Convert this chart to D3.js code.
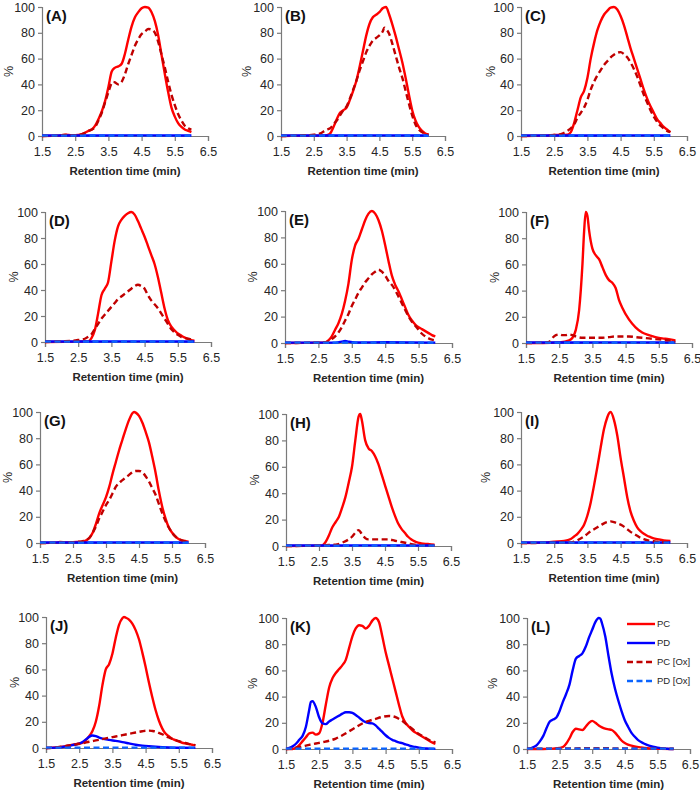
<!DOCTYPE html>
<html><head><meta charset="utf-8">
<script src="https://cdn.jsdelivr.net/npm/d3@7"></script>
<style>
body{margin:0;background:#fff;}
svg{display:block;font-family:"Liberation Sans",Arial,sans-serif;}
</style></head><body>
<svg id="c" width="700" height="790"></svg>
<script>
// ---------- DATA ----------
const seriesNames = ["PC","PD","PC [Ox]","PD [Ox]"];
const panelLabels = ["(A)","(B)","(C)","(D)","(E)","(F)","(G)","(H)","(I)","(J)","(K)","(L)"];
const xTicks = [1.5,2.5,3.5,4.5,5.5,6.5];
const yTicks = [0,20,40,60,80,100];
const xTitle = "Retention time (min)";
const yTitle = "%";

const FLAT_PD = [[1.5,0.4],[3.0,0.4],[4.5,0.5],[6.0,0.4]];
const FLAT_PDOx = [[1.5,0.3],[3.0,0.3],[4.5,0.3],[6.0,0.3]];

const A_PC = [[1.5,0],[2.0,0.3],[2.2,1],[2.4,0.5],[2.6,0.8],[2.8,2.5],[2.9,4],[3.0,5],[3.1,8],[3.2,13],[3.3,19],[3.4,27],[3.5,38],[3.6,50],[3.7,53],[3.8,54],[3.9,56],[4.0,64],[4.1,75],[4.2,85],[4.3,92],[4.4,96],[4.5,99],[4.6,100],[4.7,99.5],[4.8,96],[4.9,89],[5.0,78],[5.1,63],[5.2,48],[5.3,34],[5.4,22],[5.5,15],[5.6,10],[5.7,7],[5.8,5],[5.9,4],[6.0,3]];
const A_PCOx = [[1.5,0],[2.0,0.3],[2.2,0.8],[2.5,0.5],[2.7,1.5],[2.8,2.5],[2.9,4],[3.0,5],[3.1,7],[3.2,12],[3.3,18],[3.4,26],[3.5,34],[3.6,41],[3.65,42],[3.7,41.5],[3.8,40],[3.9,42],[4.0,48],[4.1,56],[4.2,63],[4.3,70],[4.4,75],[4.5,79],[4.6,81],[4.7,83],[4.8,82.5],[4.9,80],[5.0,73],[5.1,63],[5.2,53],[5.3,42],[5.4,32],[5.5,24],[5.6,17],[5.7,12],[5.8,8],[5.9,6],[6.0,5]];

const B_PC = [[1.5,0],[2.5,0.3],[2.8,0.3],[2.9,0.6],[3.0,2],[3.1,7],[3.2,13],[3.3,18],[3.4,20],[3.5,22],[3.6,28],[3.7,35],[3.8,43],[3.9,54],[4.0,66],[4.1,78],[4.2,87],[4.3,92],[4.4,94],[4.5,96],[4.6,99],[4.7,100],[4.8,94],[4.9,86],[5.0,77],[5.1,67],[5.2,57],[5.3,45],[5.4,32],[5.5,20],[5.6,12],[5.7,7],[5.8,4],[5.9,2],[6.0,1]];
const B_PCOx = [[1.5,0],[2.0,0.3],[2.5,1],[2.7,2],[2.8,3.5],[2.9,5],[3.0,6],[3.1,9],[3.2,12],[3.3,16],[3.4,20],[3.5,23],[3.6,29],[3.7,36],[3.8,43],[3.9,51],[4.0,58],[4.1,65],[4.2,70],[4.3,74],[4.4,76],[4.5,78],[4.6,81],[4.65,84],[4.7,83],[4.8,79],[4.9,71],[5.0,62],[5.1,53],[5.2,45],[5.3,35],[5.4,25],[5.5,16],[5.6,9],[5.7,5],[5.8,3],[5.9,1.5],[6.0,1]];

const C_PC = [[1.5,0],[2.3,0.3],[2.5,0.8],[2.7,0.8],[2.9,1],[3.0,3],[3.1,10],[3.2,20],[3.3,30],[3.4,35],[3.5,45],[3.6,60],[3.7,72],[3.8,82],[3.9,89],[4.0,94],[4.1,97],[4.2,99.5],[4.3,100],[4.4,98],[4.5,93],[4.6,86],[4.7,77],[4.8,68],[4.9,60],[5.0,52],[5.1,44],[5.2,36],[5.3,29],[5.4,23],[5.5,18],[5.6,13],[5.7,10],[5.8,7],[5.9,5],[6.0,3]];
const C_PCOx = [[1.5,0],[2.3,0.3],[2.5,0.8],[2.7,1.5],[2.8,2.5],[2.9,4],[3.0,6],[3.1,9],[3.2,14],[3.3,18],[3.4,22],[3.5,28],[3.6,36],[3.7,42],[3.8,47],[3.9,51],[4.0,55],[4.1,58],[4.2,61],[4.3,63],[4.4,64.5],[4.5,65],[4.6,63.5],[4.7,61],[4.8,57],[4.9,52],[5.0,46],[5.1,39],[5.2,32],[5.3,26],[5.4,20],[5.5,15],[5.6,11],[5.7,8],[5.8,6],[5.9,4],[6.0,3]];

const D_PC = [[1.5,0],[2.5,0.3],[2.8,0.5],[2.9,3],[3.0,9],[3.1,22],[3.2,36],[3.3,41],[3.4,46],[3.5,62],[3.6,78],[3.7,89],[3.8,94],[3.9,97],[4.0,99],[4.1,100],[4.2,98],[4.3,93],[4.4,87],[4.5,81],[4.6,74],[4.7,67],[4.8,60],[4.9,50],[5.0,38],[5.1,26],[5.2,17],[5.3,12],[5.4,9],[5.5,6.5],[5.6,5],[5.7,3.5],[5.8,2.5],[5.9,1.5],[6.0,1]];
const D_PCOx = [[1.5,0],[2.0,0.5],[2.3,0.8],[2.5,1.5],[2.7,2.5],[2.8,4],[2.9,6],[3.0,10],[3.1,14],[3.2,18],[3.3,21],[3.4,24],[3.5,27],[3.6,30],[3.7,33],[3.8,35],[3.9,37],[4.0,39],[4.1,41],[4.2,43],[4.3,44],[4.4,43],[4.5,41],[4.6,36],[4.7,32],[4.8,29],[4.9,26],[5.0,22],[5.1,18],[5.2,14],[5.3,10],[5.4,7.5],[5.5,5.5],[5.6,4],[5.8,2.5],[6.0,1.5]];

const E_PC = [[1.5,0],[2.5,0.3],[2.7,0.5],[2.8,2],[2.9,5],[3.0,10],[3.1,15],[3.2,22],[3.3,32],[3.4,45],[3.5,63],[3.6,74],[3.7,79],[3.8,86],[3.9,93],[4.0,98],[4.1,100],[4.2,98],[4.3,93],[4.4,85],[4.5,74],[4.6,62],[4.7,51],[4.8,44],[4.9,39],[5.0,33],[5.1,27],[5.2,21],[5.3,17],[5.4,14],[5.5,12],[5.6,10.5],[5.7,9],[5.8,7.5],[5.9,6],[6.0,5]];
const E_PCOx = [[1.5,0],[2.6,0.3],[2.8,1],[2.9,3],[3.0,5],[3.1,8],[3.2,12],[3.3,17],[3.4,22],[3.5,28],[3.6,33],[3.7,38],[3.8,42],[3.9,46],[4.0,49],[4.1,52],[4.2,54],[4.3,55.5],[4.4,54],[4.5,51],[4.6,47],[4.7,44],[4.8,40],[4.9,35],[5.0,30],[5.1,25],[5.2,20],[5.3,16],[5.4,13],[5.5,10],[5.6,7],[5.7,5],[5.8,3.5],[5.9,2.5],[6.0,2]];
const E_PD = [[1.5,0.3],[3.0,0.3],[3.2,1],[3.3,1.5],[3.4,1],[3.6,0.4],[4.5,0.6],[6.0,0.3]];

const F_PC = [[1.5,0],[2.0,0],[2.5,0.5],[2.8,2],[2.9,4],[3.0,10],[3.1,25],[3.2,60],[3.25,85],[3.3,100],[3.35,97],[3.4,86],[3.5,72],[3.6,67],[3.7,64],[3.8,58],[3.9,52],[4.0,48],[4.1,46],[4.2,42],[4.3,33],[4.4,27],[4.6,18],[4.8,12],[5.0,8],[5.2,6],[5.4,4.5],[5.6,3.5],[5.8,3],[6.0,2]];
const F_PCOx = [[1.5,0],[2.1,0.3],[2.2,1],[2.3,4],[2.4,6],[2.5,6.5],[2.6,6],[2.7,6],[2.8,6.5],[2.9,6],[3.0,5],[3.2,4],[3.4,4],[3.6,4],[3.8,4],[4.0,4.5],[4.2,5],[4.4,5],[4.6,5],[4.8,4.5],[5.0,4],[5.2,3.5],[5.4,3],[5.6,2.5],[5.8,2],[6.0,1]];

const G_PC = [[1.5,0],[2.0,0.3],[2.1,0.8],[2.3,0.5],[2.6,0.8],[2.8,1],[2.9,2],[3.0,4],[3.1,8],[3.2,15],[3.3,23],[3.4,29],[3.5,35],[3.6,43],[3.7,53],[3.8,62],[3.9,71],[4.0,79],[4.1,87],[4.2,94],[4.3,99],[4.35,100],[4.4,99.5],[4.5,97],[4.6,92],[4.7,85],[4.8,77],[4.9,66],[5.0,54],[5.1,40],[5.2,28],[5.3,19],[5.4,12],[5.5,8],[5.6,5],[5.7,3],[5.8,2],[5.9,1.5],[6.0,1]];
const G_PCOx = [[1.5,0],[2.3,0.3],[2.6,0.8],[2.8,1.5],[2.9,2.5],[3.0,4],[3.1,8],[3.2,13],[3.3,19],[3.4,24],[3.5,29],[3.6,33],[3.7,38],[3.8,43],[3.9,46],[4.0,48],[4.1,50],[4.2,52],[4.3,54],[4.4,55],[4.5,55],[4.6,54],[4.7,51],[4.8,47],[4.9,42],[5.0,37],[5.1,30],[5.2,23],[5.3,17],[5.4,12],[5.5,8],[5.6,5],[5.7,3],[5.8,2],[6.0,1]];

const H_PC = [[1.5,0],[2.5,0.3],[2.6,0.5],[2.7,3],[2.8,8],[2.9,14],[3.0,18],[3.1,22],[3.2,29],[3.3,37],[3.4,48],[3.5,60],[3.6,80],[3.7,98],[3.75,100],[3.8,95],[3.9,80],[4.0,74],[4.1,72],[4.2,68],[4.3,62],[4.4,54],[4.5,46],[4.6,38],[4.7,30],[4.8,23],[4.9,17],[5.0,13],[5.1,10],[5.2,7],[5.3,5],[5.4,3.5],[5.5,2.5],[5.6,2],[5.8,1.5],[6.0,1]];
const H_PCOx = [[1.5,0],[2.6,0.3],[2.8,0.8],[3.0,1],[3.2,2.5],[3.4,5],[3.5,7],[3.6,10],[3.7,12],[3.8,9],[3.9,6],[4.0,5],[4.2,5],[4.4,5],[4.6,5],[4.8,4],[5.0,3],[5.2,2],[5.4,1],[5.6,0.5],[6.0,0.3]];

const I_PC = [[1.5,0],[2.3,0.5],[2.5,1],[2.8,1.5],[3.0,3],[3.1,5],[3.2,7],[3.3,10],[3.4,14],[3.5,21],[3.6,31],[3.7,44],[3.8,58],[3.9,73],[4.0,87],[4.1,96],[4.15,99],[4.2,100],[4.3,94],[4.4,82],[4.5,65],[4.6,50],[4.7,35],[4.8,24],[4.9,17],[5.0,12],[5.1,9],[5.2,7],[5.3,5.5],[5.4,4.5],[5.5,3.5],[5.6,3],[5.7,2.5],[5.8,2],[6.0,1.5]];
const I_PCOx = [[1.5,0],[3.0,0.3],[3.1,1],[3.2,2],[3.3,3.5],[3.4,5],[3.5,7],[3.6,9],[3.7,10.5],[3.8,12],[3.9,13.5],[4.0,15],[4.1,16],[4.2,16.5],[4.3,16],[4.4,15],[4.5,14],[4.6,12.5],[4.7,10.5],[4.8,8.5],[4.9,7],[5.0,5.5],[5.1,4],[5.2,3],[5.3,2.2],[5.4,1.7],[5.5,1.3],[5.6,1],[5.8,0.5],[6.0,0.3]];

const J_PC = [[1.5,0],[1.8,0.5],[2.0,1],[2.2,2],[2.4,3],[2.6,4],[2.7,6],[2.8,9],[2.9,13],[3.0,20],[3.1,32],[3.2,48],[3.3,60],[3.4,64],[3.5,72],[3.6,84],[3.7,94],[3.8,99],[3.85,100],[3.9,99.5],[4.0,98],[4.1,95],[4.2,90],[4.3,83],[4.4,73],[4.5,62],[4.6,50],[4.7,39],[4.8,29],[4.9,21],[5.0,15],[5.1,11],[5.2,9],[5.3,7],[5.4,6],[5.5,5],[5.6,4],[5.7,3.5],[5.8,3],[5.9,2.5],[6.0,2]];
const J_PD = [[1.5,0],[1.8,0.3],[2.0,0.8],[2.1,1.2],[2.2,1.8],[2.3,2.2],[2.4,2.7],[2.5,3.3],[2.6,4.5],[2.7,6.5],[2.8,8.5],[2.9,9.5],[3.0,9],[3.1,8],[3.2,7.2],[3.4,6.2],[3.6,5.4],[3.8,4.5],[4.0,3.5],[4.2,2.5],[4.4,1.8],[4.6,1.3],[4.8,0.9],[5.0,0.6],[5.2,0.4],[5.5,0.2],[6.0,0.1]];
const J_PCOx = [[1.5,0],[1.8,0.5],[2.0,1.2],[2.2,2],[2.4,2.8],[2.6,3.6],[2.8,4.8],[3.0,5.8],[3.2,6.8],[3.4,7.8],[3.6,8.8],[3.8,9.8],[4.0,10.8],[4.2,11.8],[4.4,12.8],[4.5,13.2],[4.6,13.3],[4.7,13],[4.8,12.5],[4.9,11.5],[5.0,10.5],[5.1,9.2],[5.2,8],[5.3,7],[5.4,6],[5.5,5.2],[5.6,4.5],[5.7,3.8],[5.8,3.2],[5.9,2.7],[6.0,2.2]];

const K_PC = [[1.5,0],[1.7,0],[1.8,1],[1.9,3],[2.0,6],[2.1,9],[2.2,12],[2.3,12.5],[2.4,11],[2.5,12],[2.6,20],[2.7,34],[2.8,47],[2.9,54],[3.0,58],[3.1,61],[3.2,64],[3.3,68],[3.4,77],[3.5,86],[3.6,92],[3.7,94.5],[3.8,94],[3.9,92],[4.0,94],[4.1,98],[4.2,100],[4.3,97],[4.4,86],[4.5,74],[4.6,64],[4.7,54],[4.8,44],[4.9,34],[5.0,25],[5.1,20],[5.2,17],[5.3,14.5],[5.4,12.5],[5.5,11],[5.6,9.5],[5.7,8],[5.8,6.5],[5.9,5],[6.0,4]];
const K_PD = [[1.5,0],[1.6,0.8],[1.7,2],[1.8,4],[1.9,7],[2.0,10],[2.1,17],[2.2,30],[2.25,36],[2.3,36.5],[2.4,32],[2.5,24],[2.6,19.5],[2.7,19],[2.8,21],[2.9,22.5],[3.0,24],[3.1,25.5],[3.2,27],[3.3,28],[3.4,28],[3.5,27.5],[3.6,26],[3.7,24],[3.8,22],[3.9,20.5],[4.0,19.8],[4.1,19.5],[4.2,18],[4.3,15.5],[4.4,13],[4.5,10.5],[4.6,8.5],[4.7,7],[4.8,6],[4.9,5],[5.0,4.5],[5.1,3.5],[5.2,2.8],[5.3,2],[5.4,1.5],[5.5,1],[5.6,0.6],[5.8,0.3],[6.0,0.1]];
const K_PCOx = [[1.5,0],[1.7,0.3],[1.8,1],[2.0,2],[2.2,3.2],[2.4,4.2],[2.6,5.2],[2.8,6.3],[3.0,8],[3.2,10.5],[3.4,13.5],[3.6,16.5],[3.8,19.5],[4.0,21.5],[4.2,23],[4.4,24.5],[4.6,25.2],[4.7,25],[4.8,24.3],[4.9,23],[5.0,21.5],[5.1,19.5],[5.2,17.5],[5.3,15.5],[5.4,13.5],[5.5,11.5],[5.6,10],[5.7,8.5],[5.8,7],[5.9,6],[6.0,5]];

const L_PC = [[1.5,0],[2.0,0],[2.3,0.3],[2.5,0.8],[2.6,1.5],[2.7,4],[2.8,8],[2.9,13],[3.0,15.5],[3.1,15],[3.2,14.5],[3.3,17],[3.4,20],[3.5,21.5],[3.6,20],[3.7,18],[3.8,16.5],[3.9,15.5],[4.0,15],[4.1,14.5],[4.2,12.5],[4.3,9.5],[4.4,6.5],[4.5,4.5],[4.6,3.3],[4.8,2],[5.0,1.2],[5.2,0.6],[5.4,0.3],[5.6,0.1],[6.0,0]];
const L_PD = [[1.5,0],[1.6,0.5],[1.7,1.5],[1.8,3],[1.9,6],[2.0,10],[2.1,16],[2.2,21],[2.3,22.5],[2.4,24],[2.5,29],[2.6,36],[2.7,42],[2.8,49],[2.9,60],[3.0,69],[3.1,71],[3.2,73],[3.3,78],[3.4,85],[3.5,91],[3.6,97],[3.7,100],[3.75,99.5],[3.8,96],[3.9,86],[4.0,71],[4.1,57],[4.2,46],[4.3,37],[4.4,29],[4.5,22],[4.6,17],[4.7,12.5],[4.8,9.5],[4.9,7],[5.0,5.3],[5.1,4],[5.2,3],[5.3,2.2],[5.4,1.5],[5.5,1],[5.6,0.6],[5.8,0.2],[6.0,0]];
const L_PCOx = [[1.5,0.2],[2.5,0.3],[3.5,0.6],[4.5,0.4],[6.0,0.2]];

const panelSeries = [
  [A_PC, FLAT_PD, A_PCOx, FLAT_PDOx],
  [B_PC, FLAT_PD, B_PCOx, FLAT_PDOx],
  [C_PC, FLAT_PD, C_PCOx, FLAT_PDOx],
  [D_PC, FLAT_PD, D_PCOx, FLAT_PDOx],
  [E_PC, E_PD, E_PCOx, FLAT_PDOx],
  [F_PC, FLAT_PD, F_PCOx, FLAT_PDOx],
  [G_PC, FLAT_PD, G_PCOx, FLAT_PDOx],
  [H_PC, FLAT_PD, H_PCOx, FLAT_PDOx],
  [I_PC, FLAT_PD, I_PCOx, FLAT_PDOx],
  [J_PC, J_PD, J_PCOx, FLAT_PDOx],
  [K_PC, K_PD, K_PCOx, FLAT_PDOx],
  [L_PC, L_PD, L_PCOx, FLAT_PDOx]
];

// ---------- LAYOUT / STYLE ----------
// [left(x=1.5), right(x=6.5), top(y=100), bottom(y=0), yTitle offset]
const layout = [
  [42,208,7,136,33],[281,445,7,136,34],[521,687,7,136,30],
  [45,211,212,342,31],[285,452,211,343,32],[526,692,212,343,31],
  [40,205,412,543,32],[286,451,414,546,31],[521,687,412,543,35],
  [46,212,617,748,31],[286,452,618,749,33],[527,690,618,749,34]
];
const styles = [
  {color:"#FF0000", dash:null},
  {color:"#0000FF", dash:null},
  {color:"#C00000", dash:"6,3.5"},
  {color:"#0A64FF", dash:"6,3.5"}
];
const txt = "#262626", axisCol = "#7a7a7a";

const svg = d3.select("#c");

panelSeries.forEach((ser, i) => {
  const [x0,x1,yt,yb,yo] = layout[i];
  const x = d3.scaleLinear().domain([1.5,6.5]).range([x0,x1]);
  const y = d3.scaleLinear().domain([0,100]).range([yb,yt]);
  const g = svg.append("g");
  const line = d3.line().x(d=>x(d[0])).y(d=>y(d[1])).curve(d3.curveMonotoneX);

  const xa = g.append("g").attr("transform",`translate(0,${yb})`)
    .call(d3.axisBottom(x).tickValues(xTicks).tickFormat(d3.format(".1f")).tickSize(5).tickPadding(6));
  const ya = g.append("g").attr("transform",`translate(${x0},0)`)
    .call(d3.axisLeft(y).tickValues(yTicks).tickSize(4).tickPadding(3));
  [xa,ya].forEach(a => {
    a.select(".domain").attr("stroke",axisCol).attr("stroke-width",1.2);
    a.selectAll(".tick line").attr("stroke",axisCol).attr("stroke-width",1.2);
    a.selectAll(".tick text").attr("fill",txt).style("font-size","12.5px");
  });
  g.append("text").attr("x",(x0+x1)/2).attr("y",yb+39).attr("text-anchor","middle")
    .style("font-size","11.5px").style("font-weight","bold").attr("fill",txt).text(xTitle);
  g.append("text").attr("transform",`translate(${x0-yo},${(yt+yb)/2}) rotate(-90)`)
    .attr("text-anchor","middle").attr("dy","0.35em").style("font-size","12.5px").attr("fill",txt).text(yTitle);
  g.append("text").attr("x",x0+4).attr("y",yt+14)
    .style("font-size","15px").style("font-weight","bold").attr("fill","#111").text(panelLabels[i]);

  ser.forEach((data, k) => {
    g.append("path").datum(data).attr("d", line)
      .attr("fill","none").attr("stroke", styles[k].color)
      .attr("stroke-width", 2.4).attr("stroke-linejoin","round")
      .attr("stroke-dasharray", styles[k].dash);
  });
});

// legend (panel L)
const lg = svg.append("g");
const legY0 = 624, legStep = 19, legX = 627;
seriesNames.forEach((n,k) => {
  const yy = legY0 + k*legStep;
  lg.append("line").attr("x1",legX).attr("x2",legX+28).attr("y1",yy).attr("y2",yy)
    .attr("stroke",styles[k].color).attr("stroke-width",2.4).attr("stroke-dasharray",styles[k].dash);
  lg.append("text").attr("x",legX+30).attr("y",yy).attr("dy","0.35em")
    .style("font-size","9.5px").attr("fill",txt).text(n);
});
</script>
</body></html>
